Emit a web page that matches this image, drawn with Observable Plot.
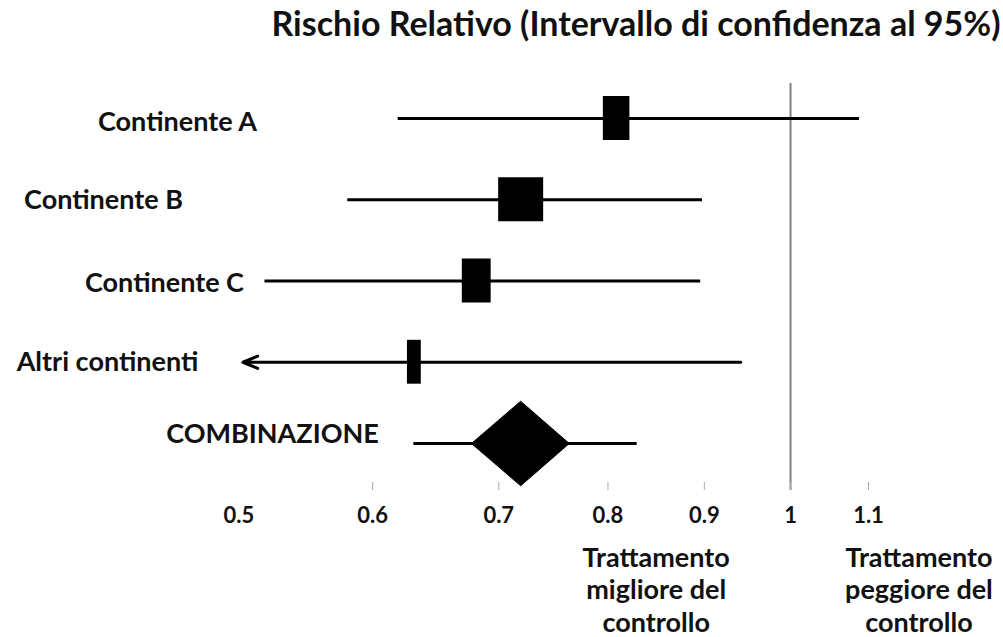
<!DOCTYPE html>
<html>
<head>
<meta charset="utf-8">
<script src="https://cdn.jsdelivr.net/npm/d3@7"></script>
<script src="https://cdn.jsdelivr.net/npm/@observablehq/plot@0.6"></script>
<style>
  html, body { margin: 0; padding: 0; background: #fff; }
  #chart svg { display: block; }
</style>
</head>
<body>
<div id="chart"></div>
<script>
// ---- data ----
const rows = ["Continente A", "Continente B", "Continente C", "Altri continenti", "COMBINAZIONE"];
const estimates = [0.808, 0.719, 0.681, 0.631, 0.719];
const lower = [0.619, 0.582, 0.526, 0.512, 0.631];
const upper = [1.088, 0.898, 0.896, 0.941, 0.829];
const truncated = [false, false, false, true, false];   // CI continues beyond axis (arrow)
const weights = [23, 39, 25, 12];                        // study weights (%) -> box width
const diamondLow = 0.677;
const diamondHigh = 0.763;
const tickValues = [0.5, 0.6, 0.7, 0.8, 0.9, 1, 1.1];
const tickLabels = ["0.5", "0.6", "0.7", "0.8", "0.9", "1", "1.1"];
const title = "Rischio Relativo (Intervallo di confidenza al 95%)";
const noteBetter = "Trattamento\nmigliore del\ncontrollo";
const noteWorse = "Trattamento\npeggiore del\ncontrollo";
const noteBetterAt = Math.sqrt(0.8 * 0.9);   // centred between the 0.8 and 0.9 ticks
const noteWorseAt = 1.17;

// ---- layout (styling only) ----
const labelCenterDx = [177, 103, 164, 107, 272];
const labelDy = [4, 1, 2, 0, -9];
const FONT = "Lato, 'Open Sans', sans-serif";

const table = rows.map((name, i) => ({
  name, i, est: estimates[i], lo: lower[i], hi: upper[i], trunc: truncated[i], w: weights[i]
}));
const studies = table.slice(0, 4);
const combo = table[4];
const boxHalf = 0.27;     // half box height in row units
const diaHalf = 0.52;     // half diamond height in row units
const diamond = [
  {x: diamondLow, y: combo.i},
  {x: combo.est, y: combo.i - diaHalf},
  {x: diamondHigh, y: combo.i},
  {x: combo.est, y: combo.i + diaHalf},
  {x: diamondLow, y: combo.i}
];
const ticks = tickValues.map((v, k) => ({v, label: tickLabels[k]}));
const tickText = {frameAnchor: "bottom", lineAnchor: "middle", dy: 25,
  fontSize: 22, fontWeight: "bold", fontFamily: FONT, fill: "#111"};
const noteText = {frameAnchor: "bottom", lineAnchor: "top", dy: 54, lineHeight: 1.19,
  fontSize: 27, fontWeight: "bold", fontFamily: FONT, fill: "#111"};

const marks = [
  // reference line at RR = 1
  Plot.ruleX([1], {stroke: "#808080", strokeWidth: 2}),
  // tick marks
  Plot.ruleX(ticks.slice(1), {x: "v", insetTop: 399, stroke: "#aaa", strokeWidth: 1}),
  // tick labels
  Plot.text(ticks.slice(0, 1), {x: "v", text: "label", textAnchor: "start", ...tickText}),
  Plot.text(ticks.slice(1), {x: "v", text: "label", ...tickText}),
  // confidence intervals
  Plot.ruleY(table.filter(d => !d.trunc), {y: "i", x1: "lo", x2: "hi", stroke: "#000", strokeWidth: 3}),
  Plot.arrow(table.filter(d => d.trunc), {x1: "hi", x2: "lo", y1: "i", y2: "i", stroke: "#000",
    strokeWidth: 3, headLength: 8, headAngle: 45}),
  // study boxes (width proportional to weight)
  Plot.ruleX(studies, {x: "est", y1: d => d.i - boxHalf, y2: d => d.i + boxHalf,
    strokeWidth: d => d.w * 1.154, stroke: "#000"}),
  // combined diamond
  Plot.line(diamond, {x: "x", y: "y", fill: "#000", stroke: "#000", strokeWidth: 1, curve: "linear"}),
  // title
  Plot.text([title], {frameAnchor: "top-right", lineAnchor: "middle", textAnchor: "end", dx: -3, dy: -58,
    fontSize: 34, fontWeight: "bold", fontFamily: FONT, fill: "#111"}),
  // notes below axis
  Plot.text([noteBetter], {x: noteBetterAt, ...noteText}),
  Plot.text([noteWorse], {x: noteWorseAt, ...noteText})
];
// row labels
table.forEach((d, k) => {
  marks.push(Plot.text([d], {y: "i", text: "name", frameAnchor: "left", dx: labelCenterDx[k], dy: labelDy[k],
    textAnchor: "middle", lineAnchor: "middle", fontSize: 27, fontWeight: "bold", fontFamily: FONT, fill: "#111"}));
});

const chart = Plot.plot({
  width: 1003,
  height: 637,
  marginTop: 83,
  marginBottom: 147,
  marginLeft: 0,
  marginRight: 0,
  x: {type: "log", domain: [0.5, 1.1], range: [223, 868], axis: null},
  y: {type: "linear", domain: [0, 4], range: [118, 443], axis: null},
  style: {background: "#fff", overflow: "visible"},
  marks
});
document.getElementById("chart").appendChild(chart);
</script>
</body>
</html>
